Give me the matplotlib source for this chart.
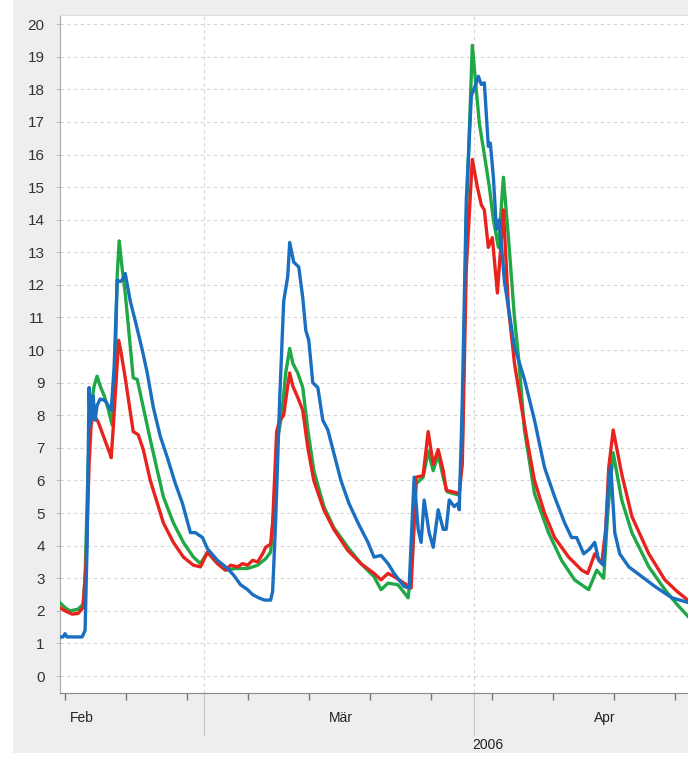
import matplotlib
matplotlib.use('Agg')
import matplotlib.pyplot as plt
import matplotlib.dates as mdates
import matplotlib.transforms as mtransforms
from matplotlib.patches import Rectangle
from matplotlib.lines import Line2D
import numpy as np
import pandas as pd

base = pd.Timestamp('2006-02-01')

# x values: days since 2006-02-01
red_days = [11.41, 11.99, 12.79, 13.48, 14.06, 14.41, 14.75, 14.98, 15.21, 15.56,
            15.79, 16.48, 17.17, 17.29, 17.52, 17.98, 18.15, 18.44, 18.90, 19.82,
            20.40, 20.97, 21.78, 22.59, 23.28, 24.43, 25.58, 26.73, 27.54, 28.35,
            29.50, 30.42, 31.00, 31.80, 32.38, 32.95, 33.53, 34.11, 34.68, 35.03,
            35.60, 35.83, 36.29, 36.64, 37.10, 37.56, 37.79, 38.14, 38.71, 39.29,
            39.87, 40.56, 41.71, 42.86, 44.47, 45.97, 47.47, 48.28, 49.08, 49.77,
            50.92, 51.73, 52.31, 53.11, 53.69, 54.27, 54.84, 55.42, 55.76, 57.26,
            57.61, 58.07, 58.76, 59.34, 59.80, 60.14, 60.60, 61.06, 61.64, 62.33,
            62.91, 63.60, 64.41, 65.21, 65.90, 67.05, 68.21, 69.82, 71.32, 72.01,
            72.82, 73.62, 74.08, 74.43, 74.94, 75.92, 77.08, 79.03, 80.88, 82.26,
            83.64]
red_vals = [2.1, 2.0, 1.9, 1.92, 2.1, 3.5, 6.5, 7.7, 8.0, 7.9,
            7.8, 7.3, 6.8, 6.7, 7.6, 9.6, 10.3, 9.9, 9.15, 7.5,
            7.4, 6.95, 6.0, 5.3, 4.7, 4.1, 3.65, 3.4, 3.35, 3.8,
            3.45, 3.25, 3.4, 3.35, 3.45, 3.4, 3.55, 3.5, 3.75, 3.95,
            4.05, 4.7, 7.5, 7.85, 8.0, 8.9, 9.3, 8.9, 8.55, 8.15,
            7.0, 6.0, 5.1, 4.5, 3.85, 3.45, 3.15, 2.95, 3.15, 3.05,
            2.85, 2.7, 6.1, 6.15, 7.5, 6.5, 6.95, 6.3, 5.7, 5.6,
            6.5, 12.5, 15.85, 15.0, 14.45, 14.3, 13.15, 13.45, 11.75, 14.3,
            11.3, 9.6, 8.25, 7.0, 6.0, 5.0, 4.25, 3.65, 3.25, 3.15,
            3.75, 3.45, 4.5, 6.4, 7.55, 6.2, 4.9, 3.75, 2.95, 2.6,
            2.3]

green_days = [11.41, 11.99, 12.56, 13.48, 14.06, 14.29, 14.64, 14.98, 15.33, 15.67,
              16.02, 16.48, 16.94, 17.40, 17.75, 17.98, 18.21, 18.55, 18.90, 19.82,
              20.28, 20.97, 21.78, 22.59, 23.28, 24.43, 25.58, 26.73, 27.54, 28.35,
              29.50, 30.42, 31.57, 32.95, 34.11, 35.03, 35.60, 35.95, 36.41, 36.87,
              37.33, 37.79, 38.14, 38.71, 39.29, 39.87, 40.56, 41.71, 42.86, 44.47,
              45.97, 47.47, 48.28, 49.08, 50.23, 51.39, 51.85, 52.31, 53.11, 53.69,
              54.27, 54.84, 55.42, 55.88, 57.26, 57.61, 58.07, 58.76, 59.11, 59.57,
              60.14, 60.72, 61.18, 61.76, 62.33, 62.91, 63.60, 64.06, 64.75, 65.90,
              67.51, 69.01, 70.51, 72.12, 73.05, 73.85, 74.31, 74.94, 75.92, 77.08,
              79.03, 80.88, 82.26, 83.64]
green_vals = [2.25, 2.1, 2.0, 2.05, 2.2, 3.0, 6.5, 8.3, 8.9, 9.2,
              8.9, 8.6, 8.2, 7.7, 9.5, 12.3, 13.35, 12.5, 11.75, 9.15,
              9.1, 8.25, 7.25, 6.3, 5.5, 4.7, 4.1, 3.65, 3.45, 3.8,
              3.45, 3.25, 3.3, 3.3, 3.4, 3.6, 3.8, 5.0, 7.3, 8.0,
              9.3, 10.05, 9.6, 9.3, 8.85, 7.55, 6.3, 5.2, 4.55, 3.95,
              3.45, 3.05, 2.65, 2.85, 2.8, 2.4, 3.5, 5.9, 6.1, 6.9,
              6.3, 6.8, 6.1, 5.65, 5.55, 7.0, 14.0, 19.35, 18.3, 16.95,
              16.0, 15.0, 14.0, 13.15, 15.3, 13.45, 11.0, 9.8, 7.55, 5.6,
              4.4, 3.55, 2.95, 2.65, 3.25, 3.0, 5.0, 6.85, 5.4, 4.4,
              3.35, 2.65, 2.2, 1.8]

blue_days = [11.41, 11.76, 11.99, 12.22, 13.95, 14.29, 14.52, 14.75, 14.87, 15.04,
             15.21, 15.44, 15.67, 16.02, 16.60, 16.94, 17.29, 17.63, 17.98, 18.32,
             18.55, 18.90, 19.48, 20.05, 20.86, 21.43, 22.12, 22.93, 23.74, 24.66,
             25.47, 26.39, 26.96, 27.77, 28.35, 29.50, 30.65, 31.34, 32.15, 32.95,
             33.53, 34.22, 34.91, 35.60, 35.83, 36.18, 36.64, 37.10, 37.56, 37.79,
             38.25, 38.83, 39.29, 39.64, 39.98, 40.44, 41.02, 41.59, 42.17, 42.75,
             43.67, 44.59, 45.63, 46.78, 47.47, 48.28, 49.08, 49.77, 50.92, 51.50,
             52.08, 52.54, 52.88, 53.23, 53.80, 54.27, 54.84, 55.42, 55.76, 56.11,
             56.69, 57.15, 57.26, 57.61, 58.07, 58.65, 59.22, 59.45, 59.80, 60.14,
             60.60, 60.83, 61.18, 61.53, 61.87, 62.45, 63.60, 64.75, 65.90, 67.05,
             68.21, 69.36, 70.16, 70.74, 71.55, 72.24, 72.82, 73.28, 73.85, 74.43,
             74.66, 75.12, 75.69, 76.73, 78.23, 79.72, 81.68, 83.64]
blue_vals = [1.2, 1.2, 1.3, 1.2, 1.2, 1.4, 4.0, 8.85, 7.7, 8.0,
             8.6, 7.85, 8.3, 8.5, 8.45, 8.3, 8.15, 9.5, 12.15, 12.1,
             12.15, 12.35, 11.5, 10.9, 10.0, 9.3, 8.25, 7.35, 6.7, 5.9,
             5.3, 4.4, 4.4, 4.25, 3.9, 3.55, 3.3, 3.1, 2.8, 2.65,
             2.5, 2.4, 2.33, 2.33, 2.6, 4.8, 8.5, 11.5, 12.25, 13.3,
             12.7, 12.55, 11.6, 10.6, 10.3, 9.0, 8.85, 7.85, 7.55, 6.95,
             6.0, 5.3, 4.7, 4.1, 3.65, 3.7, 3.45, 3.15, 2.75, 2.7,
             6.1, 4.5, 4.1, 5.4, 4.4, 3.95, 5.1, 4.5, 4.5, 5.4,
             5.2, 5.3, 5.1, 8.45, 14.6, 17.8, 18.2, 18.4, 18.15, 18.2,
             16.25, 16.35, 15.3, 13.7, 14.0, 12.1, 10.1, 9.1, 7.85, 6.4,
             5.5, 4.7, 4.25, 4.25, 3.75, 3.9, 4.1, 3.55, 3.4, 6.0,
             6.45, 4.4, 3.75, 3.35, 3.05, 2.75, 2.4, 2.25]

y_ticks = list(range(0, 21))
month_labels = ['Feb', 'Mär', 'Apr']
month_label_days = [13.94, 43.67, 73.97]
year_label = '2006'
year_label_day = 60.5
separator_days = [28, 59]
x_range_days = [11.41, 83.76]


def to_dates(days):
    return base + pd.to_timedelta(np.asarray(days, dtype=float), unit='D')


plt.rcParams['font.family'] = ['Liberation Sans', 'DejaVu Sans']

W, H = 688, 757
fig = plt.figure(figsize=(W / 100, H / 100), dpi=100)
fig.patch.set_facecolor('white')
fig.add_artist(Rectangle((13 / W, 4 / H), 1, 1, transform=fig.transFigure,
                         facecolor='#eeeeee', edgecolor='none', zorder=-10))

ax = fig.add_axes([60 / W, 1 - 693 / H, 630 / W, (693 - 15) / H])
ax.set_facecolor('white')

lw = 2.4
ax.plot(to_dates(green_days), green_vals, color='#1fa845', lw=lw, solid_joinstyle='round', zorder=3)
ax.plot(to_dates(red_days), red_vals, color='#e8231e', lw=lw, solid_joinstyle='round', zorder=4)
ax.plot(to_dates(blue_days), blue_vals, color='#1a6fc0', lw=lw, solid_joinstyle='round', zorder=5)

ax.set_xlim(to_dates(x_range_days))
ax.set_ylim(-0.52, 20.28)

ax.set_yticks(y_ticks)
ax.set_yticklabels([str(t) for t in y_ticks], fontsize=11, color='#333333')
ax.tick_params(axis='y', length=3, color='#bbbbbb', pad=8)

ax.xaxis.set_major_locator(mdates.WeekdayLocator(byweekday=mdates.MO))
ax.xaxis.set_major_formatter(plt.NullFormatter())
ax.tick_params(axis='x', length=5, color='#777777', width=1)

for y in y_ticks:
    ax.axhline(y, color='#d5d5d5', lw=0.8, ls=(0, (3, 3)), zorder=1)
for d in separator_days:
    ax.axvline(to_dates([d])[0], color='#d5d5d5', lw=0.8, ls=(0, (3, 3)), zorder=1)

ax.spines['right'].set_visible(False)
ax.spines['top'].set_color('#dddddd')
ax.spines['left'].set_color('#aaaaaa')
ax.spines['bottom'].set_color('#888888')

trans = mtransforms.blended_transform_factory(ax.transData, ax.transAxes)
for d in separator_days:
    xd = mdates.date2num(to_dates([d])[0])
    ax.add_line(Line2D([xd, xd], [0, -(735 - 693) / (693 - 15)], transform=trans,
                       color='#c8c8c8', lw=0.8, clip_on=False))

for lab, d in zip(month_labels, month_label_days):
    ax.text(mdates.date2num(to_dates([d])[0]), -(718 - 693) / (693 - 15), lab, transform=trans,
            ha='center', va='center', fontsize=10, color='#222222')
ax.text(mdates.date2num(to_dates([year_label_day])[0]), -(745 - 693) / (693 - 15), year_label,
        transform=trans, ha='center', va='center', fontsize=10, color='#222222')

fig.savefig('out.png', dpi=100, facecolor=fig.get_facecolor())
